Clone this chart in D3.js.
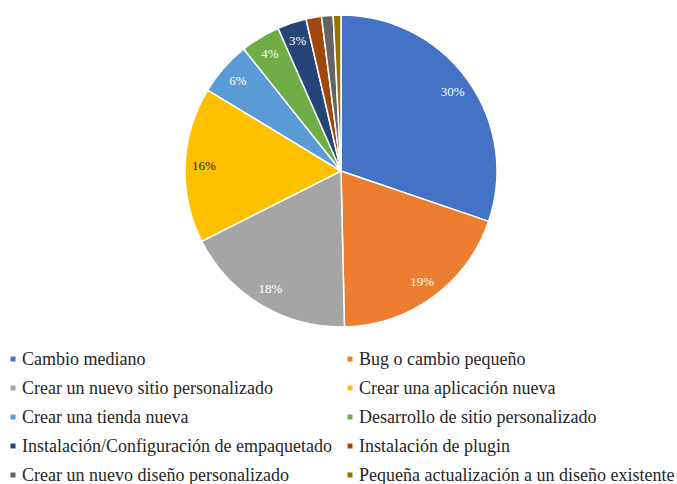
<!DOCTYPE html>
<html>
<head>
<meta charset="utf-8">
<script src="https://cdn.jsdelivr.net/npm/d3@7"></script>
<style>
  body { margin: 0; background: #fff; }
</style>
</head>
<body>
<script>
// Width and height
var w = 677;
var h = 484;

// data (percent of projects)
var categories = [
  "Cambio mediano",
  "Bug o cambio pequeño",
  "Crear un nuevo sitio personalizado",
  "Crear una aplicación nueva",
  "Crear una tienda nueva",
  "Desarrollo de sitio personalizado",
  "Instalación/Configuración de empaquetado",
  "Instalación de plugin",
  "Crear un nuevo diseño personalizado",
  "Pequeña actualización a un diseño existente"
];
var values = [30.2, 19.4, 17.9, 16.1, 5.6, 4.1, 3.0, 1.6, 1.2, 0.8];
var colors = ["#4472C4", "#ED7D31", "#A5A5A5", "#FFC000", "#5B9BD5",
              "#70AD47", "#264478", "#9E480E", "#636363", "#997300"];

var cx = 341, cy = 171, radius = 156;

var svg = d3.select("body")
            .append("svg")
            .attr("width", w)
            .attr("height", h);

var pie = d3.pie().sort(null).value(function(d) { return d; });
var arcs = pie(values);

var arc = d3.arc().innerRadius(0).outerRadius(radius);
var labelArc = d3.arc().innerRadius(radius * 0.88).outerRadius(radius * 0.88);

var g = svg.append("g").attr("transform", "translate(" + cx + "," + cy + ")");

g.selectAll("path")
 .data(arcs)
 .enter()
 .append("path")
 .attr("d", arc)
 .attr("fill", function(d, i) { return colors[i]; })
 .attr("stroke", "#fff")
 .attr("stroke-width", 1.5);

// percentage labels (small slices have none)
g.selectAll("text")
 .data(arcs.filter(function(d) { return d.data >= 2; }))
 .enter()
 .append("text")
 .text(function(d) { return Math.round(d.data) + "%"; })
 .attr("x", function(d) { return labelArc.centroid(d)[0]; })
 .attr("y", function(d) { return labelArc.centroid(d)[1]; })
 .attr("dy", "0.35em")
 .attr("text-anchor", "middle")
 .attr("font-family", "'Liberation Serif', serif")
 .attr("font-size", "13px")
 .attr("fill", function(d) { return d.index === 3 ? "#222" : "#fff"; });

// legend, two columns
var colX = [13, 350];
var rowY = d3.range(5).map(function(i) { return 359 + i * 29; });

var legend = svg.selectAll("g.legend")
  .data(categories)
  .enter()
  .append("g")
  .attr("class", "legend")
  .attr("transform", function(d, i) {
      return "translate(" + colX[i % 2] + "," + rowY[Math.floor(i / 2)] + ")";
  });

legend.append("rect")
  .attr("x", -2.5)
  .attr("y", -2.5)
  .attr("width", 5)
  .attr("height", 5)
  .attr("fill", function(d, i) { return colors[i]; });

legend.append("text")
  .text(function(d) { return d; })
  .attr("x", 9)
  .attr("dy", "0.35em")
  .attr("font-family", "'Liberation Serif', serif")
  .attr("font-size", "18px")
  .attr("fill", "#262626");
</script>
</body>
</html>
